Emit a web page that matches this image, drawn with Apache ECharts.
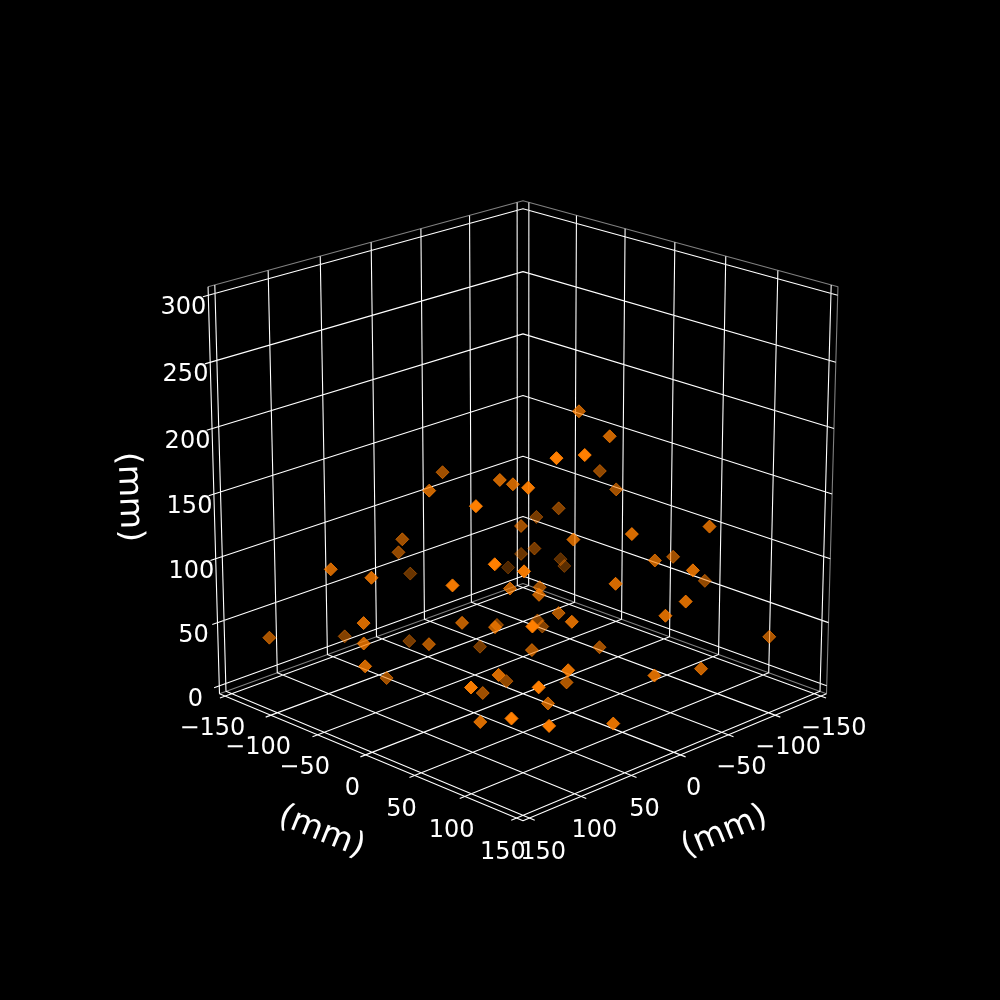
<!DOCTYPE html>
<html><head><meta charset="utf-8">
<style>html,body{margin:0;background:#000}#c{width:1000px;height:1000px}</style>
<script src="https://cdn.jsdelivr.net/npm/echarts@6/dist/echarts.min.js"></script></head>
<body><div id="c"></div>
<script>
const xValues=[149,68,149,140,150,86,141,150,54,42,-10,82,22,136,41,-8,28,22,4,50,71,-13,55,121,-35,-36,19,75,-17,24,-28,77,12,95,9,149,40,128,42,112,146,124,62,-10,3,-100,-27,21,-51,6,-36,-81,-18,-111,-24,-17,82,68,-76,45,39,83,-64,128,-66,-70,-9,18,-63,-72,129,-96,-109,-110,99];
const yValues=[-108,-117,-8,-18,-6,-53,-8,-40,-69,-86,-129,-11,-60,68,28,9,44,113,40,98,10,-40,27,130,-20,-16,-100,-20,-62,33,50,121,56,71,-8,99,-1,143,67,70,135,149,150,150,143,149,150,150,134,113,96,72,149,76,32,69,114,127,3,22,29,88,31,83,-29,-56,-11,68,-51,-74,102,-112,-69,-66,100];
const zValues=[50,25,90,69,58,16,122,122,111,93,50,171,157,136,96,78,92,118,70,93,73,33,70,119,36,32,12,49,8,45,37,71,23,58,4,73,6,80,19,27,60,52,35,106,97,53,50,59,147,151,115,99,127,73,215,207,227,229,149,178,175,199,145,196,114,99,120,138,77,64,159,36,51,46,145];
const xTicks=[-150,-100,-50,0,50,100,150];
const yTicks=[-150,-100,-50,0,50,100,150];
const zTicks=[0,50,100,150,200,250,300];
const axisTitle='(mm)';

// camera of the 3D view
const el=20*Math.PI/180,sn=Math.sin(el),cs=Math.cos(el),r2=Math.SQRT2,DIST=18.3,SCALE=4000,ZS=.99,CX=523,CY=494;
const HALF=156.25,ZLO=-6.25,ZHI=306.25,TICK=5;
function view(x,y,z){const X=x/HALF,Y=y/HALF,Z=(z-150)/HALF*ZS;
  return {h:(Y-X)/r2,v:-sn*(X+Y)/r2+cs*Z,d:cs*(X+Y)/r2+sn*Z};}
function proj(x,y,z){const p=view(x,y,z),w=DIST-p.d;return [CX+SCALE*p.h/w,CY-SCALE*p.v/w];}
function path(pts){const o=pts.map(p=>proj(p[0],p[1],p[2]));o.push([null,null]);return o;}

const grid=[];
xTicks.forEach(x=>grid.push(...path([[x,HALF+TICK,ZLO],[x,-HALF,ZLO],[x,-HALF,ZHI]])));
yTicks.forEach(y=>grid.push(...path([[HALF+TICK,y,ZLO],[-HALF,y,ZLO],[-HALF,y,ZHI]])));
zTicks.forEach(z=>grid.push(...path([[HALF+TICK,-HALF,z],[-HALF,-HALF,z],[-HALF,HALF,z]])));
const edges=[...path([[HALF,-HALF,ZHI],[-HALF,-HALF,ZHI],[-HALF,HALF,ZHI],[-HALF,HALF,ZLO]]),
  ...path([[HALF,-HALF,ZLO],[-HALF,-HALF,ZLO],[-HALF,HALF,ZLO]])];
const axes=[...path([[HALF,-HALF,ZLO],[HALF,HALF,ZLO],[-HALF,HALF,ZLO]]),...path([[HALF,-HALF,ZLO],[HALF,-HALF,ZHI]])];

const depths=xValues.map((x,i)=>view(x,yValues[i],zValues[i]).d);
const dMin=Math.min(...depths),dMax=Math.max(...depths);
const order=depths.map((d,i)=>i).sort((a,b)=>depths[a]-depths[b]);
const points=order.map(i=>{const a=0.3+0.7*(depths[i]-dMin)/(dMax-dMin);
  return {value:proj(xValues[i],yValues[i],zValues[i]),
    itemStyle:{color:`rgba(255,127,0,${a.toFixed(3)})`,borderColor:`rgba(255,127,0,${a.toFixed(3)})`,borderWidth:1,opacity:1}};});

const fmt=v=>String(v).replace('-','\u2212');
const tickLabels=[
  ...xTicks.map(x=>({value:proj(x,HALF+13,ZLO-22),name:fmt(x)})),
  ...yTicks.map(y=>({value:proj(HALF+13,y,ZLO-22),name:fmt(y)})),
  ...zTicks.map(z=>({value:proj(HALF+23,-HALF,z-4),name:fmt(z)}))];
const txt=(data,size,rot)=>({type:'scatter',data,symbolSize:0,silent:true,z:5,itemStyle:{opacity:1},
  label:{show:true,position:'inside',formatter:p=>p.name,color:'#fff',opacity:1,fontFamily:'DejaVu Sans',fontSize:size,rotate:rot,align:'center',verticalAlign:'middle'}});
const lineS=(data,color,width,z)=>({type:'line',data,showSymbol:false,silent:true,connectNulls:false,z,
  lineStyle:{color,width},clip:false});

const chart=echarts.init(document.getElementById('c'));
chart.setOption({backgroundColor:'#000',animation:false,
  grid:{left:0,right:0,top:0,bottom:0},
  xAxis:{type:'value',min:0,max:1000,show:false},
  yAxis:{type:'value',min:0,max:1000,inverse:true,show:false},
  series:[
    lineS(edges,'#808080',1.1,1),
    lineS(grid,'#fff',1.1,2),
    lineS(axes,'#fff',1.1,2),
    {type:'scatter',data:points,symbol:'diamond',symbolSize:13,silent:true,z:3},
    txt(tickLabels,24,0),
    txt([{value:proj(0,HALF+43,ZLO-46),name:axisTitle}],33,22),
    txt([{value:proj(HALF+43,0,ZLO-46),name:axisTitle}],33,-22),
    txt([{value:proj(HALF+78,-HALF,168),name:axisTitle}],33,-88)
  ]});
</script></body></html>
